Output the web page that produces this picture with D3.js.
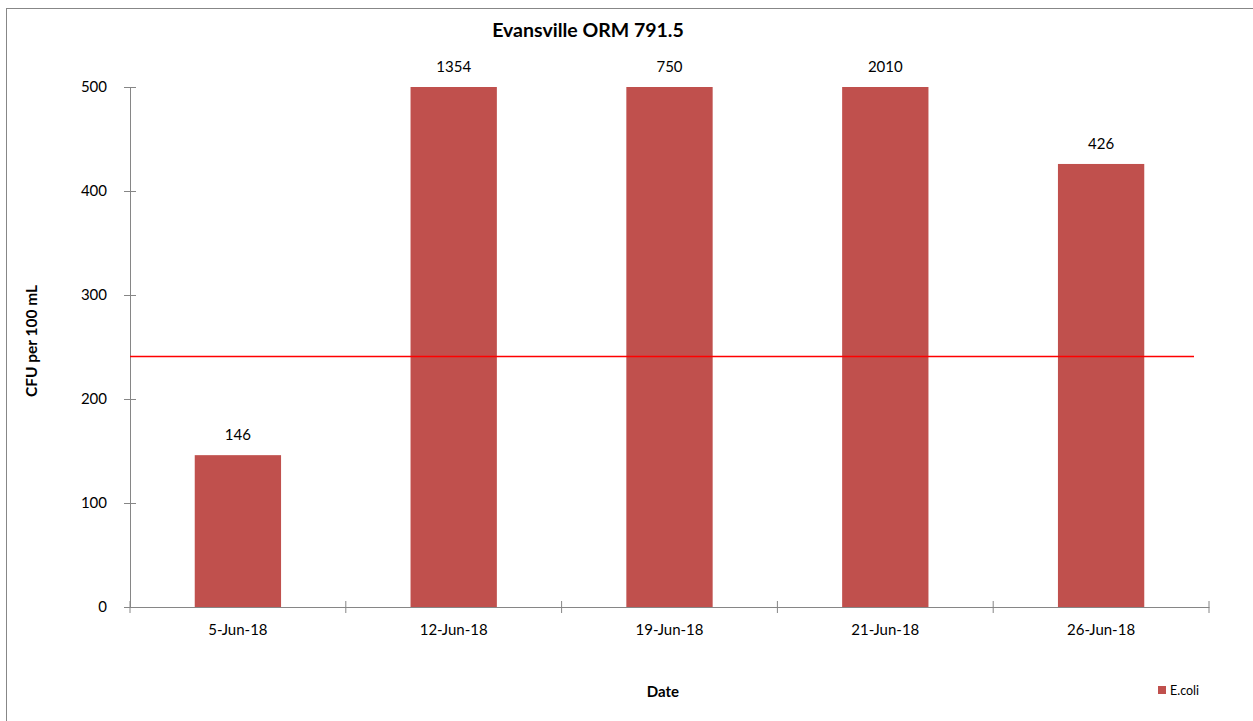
<!DOCTYPE html>
<html>
<head>
<meta charset="utf-8">
<script src="https://cdn.jsdelivr.net/npm/d3@7"></script>
<style>
  body { margin: 0; background: #fff; }
  svg { display: block; font-family: Lato, 'Open Sans', sans-serif; }
</style>
</head>
<body>
<div id="chart"></div>
<script>
const dates = ['5-Jun-18', '12-Jun-18', '19-Jun-18', '21-Jun-18', '26-Jun-18'];
const ecoli = [146, 1354, 750, 2010, 426];
const yTicks = [0, 100, 200, 300, 400, 500];
const limit = 240;

const width = 1253;
const height = 721;
const margin = { top: 87, right: 44, bottom: 114, left: 130 };
const axisMax = 500;

const svg = d3.select('#chart')
  .append('svg')
  .attr('width', width)
  .attr('height', height);

// chart frame
svg.append('rect')
  .attr('x', 6.5)
  .attr('y', 8.5)
  .attr('width', width + 20)
  .attr('height', height + 20)
  .attr('fill', 'none')
  .attr('stroke', '#878787');

const x = d3.scaleBand()
  .domain(dates)
  .range([margin.left, width - margin.right])
  .paddingInner(0.6)
  .paddingOuter(0.3);

const xEdge = d3.scaleLinear()
  .domain([0, dates.length])
  .range([margin.left, width - margin.right]);

const y = d3.scaleLinear()
  .domain([0, axisMax])
  .range([height - margin.bottom, margin.top]);

// bars (clipped at axis max, labels show real counts)
svg.append('g')
  .selectAll('rect')
  .data(ecoli)
  .join('rect')
  .attr('x', (d, i) => x(dates[i]))
  .attr('width', x.bandwidth())
  .attr('y', (d) => y(Math.min(d, axisMax)))
  .attr('height', (d) => y(0) - y(Math.min(d, axisMax)))
  .attr('fill', '#C0504D');

svg.append('g')
  .selectAll('text')
  .data(ecoli)
  .join('text')
  .attr('x', (d, i) => x(dates[i]) + x.bandwidth() / 2)
  .attr('y', (d) => y(Math.min(d, axisMax)) - 15)
  .attr('text-anchor', 'middle')
  .attr('font-size', 15)
  .attr('fill', '#000')
  .text((d) => d);

// y axis
const yAxis = svg.append('g')
  .attr('transform', `translate(${margin.left},0)`)
  .call(d3.axisLeft(y).tickValues(yTicks).tickSize(6).tickPadding(17));
yAxis.select('.domain').attr('stroke', '#868686');
yAxis.selectAll('.tick line').attr('x1', -6).attr('x2', 6).attr('stroke', '#868686');
yAxis.selectAll('.tick text').attr('font-size', 15).attr('fill', '#000')
  .attr('font-family', 'Lato, sans-serif');

// x axis
const xAxis = svg.append('g')
  .attr('transform', `translate(0,${y(0)})`)
  .call(d3.axisBottom(x).tickSize(0).tickPadding(17));
xAxis.select('.domain').attr('stroke', '#868686');
xAxis.selectAll('.tick text').attr('font-size', 15).attr('fill', '#000')
  .attr('font-family', 'Lato, sans-serif');
xAxis.selectAll('.edge')
  .data(d3.range(dates.length + 1))
  .join('line')
  .attr('class', 'edge')
  .attr('x1', (d) => xEdge(d))
  .attr('x2', (d) => xEdge(d))
  .attr('y1', -6)
  .attr('y2', 6)
  .attr('stroke', '#868686');

// 240 CFU standard line
svg.append('line')
  .attr('x1', margin.left)
  .attr('x2', xEdge(dates.length) - 15)
  .attr('y1', Math.round(y(limit)) - 0.5)
  .attr('y2', Math.round(y(limit)) - 0.5)
  .attr('stroke', '#FF0000')
  .attr('stroke-width', 1.5);

// titles
svg.append('text')
  .attr('x', 588)
  .attr('y', 37)
  .attr('text-anchor', 'middle')
  .attr('font-size', 19.5)
  .attr('font-weight', 'bold')
  .text('Evansville ORM 791.5');

svg.append('text')
  .attr('transform', `translate(37,${(y(0) + y(axisMax)) / 2 - 6}) rotate(-90)`)
  .attr('text-anchor', 'middle')
  .attr('font-size', 15.5)
  .attr('font-weight', 'bold')
  .text('CFU per 100 mL');

svg.append('text')
  .attr('x', 663)
  .attr('y', 697)
  .attr('text-anchor', 'middle')
  .attr('font-size', 15)
  .attr('font-weight', 'bold')
  .text('Date');

// legend
const legend = svg.append('g').attr('transform', 'translate(1158,686)');
legend.append('rect')
  .attr('width', 8)
  .attr('height', 8)
  .attr('fill', '#C0504D');
legend.append('text')
  .attr('x', 12)
  .attr('y', 9)
  .attr('font-size', 12.5)
  .text('E.coli');
</script>
</body>
</html>
